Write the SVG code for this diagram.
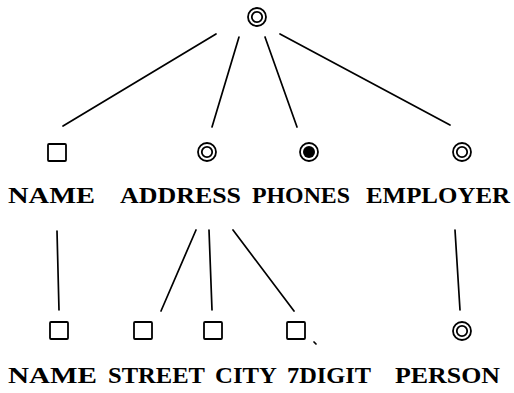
<svg xmlns="http://www.w3.org/2000/svg" width="514" height="393" viewBox="0 0 514 393">
  <style>
    .edge { stroke: #000; stroke-width: 1.7; fill: none; stroke-linecap: round; }
    .box { fill: #fff; stroke: #000; stroke-width: 1.8; }
    .ring { fill: #fff; stroke: #000; stroke-width: 1.8; }
    .dot { fill: #000; }
    .lbl { font-family: "Liberation Serif", "DejaVu Serif", serif; font-size: 24px; font-weight: bold; fill: #000; }
  </style>
  <rect width="514" height="393" fill="#fff"/>

  <!-- connectors -->
  <g id="connectors">
    <line class="edge" x1="216" y1="34" x2="63" y2="126"/>
    <line class="edge" x1="239" y1="37" x2="212" y2="127"/>
    <line class="edge" x1="265" y1="37" x2="297" y2="127"/>
    <line class="edge" x1="280" y1="34" x2="450" y2="125"/>
    <line class="edge" x1="57" y1="231" x2="59" y2="310"/>
    <line class="edge" x1="196" y1="230" x2="161" y2="311"/>
    <line class="edge" x1="209" y1="230" x2="212" y2="310"/>
    <line class="edge" x1="233" y1="230" x2="294" y2="311"/>
    <line class="edge" x1="455" y1="230" x2="460" y2="310"/>
  </g>

  <!-- root -->
  <g id="root">
    <circle class="ring" cx="257" cy="17" r="9"/>
    <circle class="ring" cx="257" cy="17" r="5.2"/>
  </g>

  <!-- level 1 -->
  <g id="name1">
    <rect class="box" x="48" y="144" width="18" height="17" rx="1"/>
    <text class="lbl" x="8" y="203" textLength="87" lengthAdjust="spacingAndGlyphs">NAME</text>
  </g>
  <g id="address">
    <circle class="ring" cx="207" cy="152" r="9"/>
    <circle class="ring" cx="207" cy="152" r="5.2"/>
    <text class="lbl" x="120" y="203" textLength="121" lengthAdjust="spacingAndGlyphs">ADDRESS</text>
  </g>
  <g id="phones">
    <circle class="ring" cx="309" cy="152" r="9"/>
    <circle class="dot" cx="309" cy="152" r="6"/>
    <text class="lbl" x="252" y="203" textLength="98" lengthAdjust="spacingAndGlyphs">PHONES</text>
  </g>
  <g id="employer">
    <circle class="ring" cx="462" cy="152" r="9"/>
    <circle class="ring" cx="462" cy="152" r="5.2"/>
    <text class="lbl" x="366" y="203" textLength="144" lengthAdjust="spacingAndGlyphs">EMPLOYER</text>
  </g>

  <!-- level 2 -->
  <g id="name2">
    <rect class="box" x="50" y="322" width="18" height="17" rx="1"/>
    <text class="lbl" x="8" y="383" textLength="89" lengthAdjust="spacingAndGlyphs">NAME</text>
  </g>
  <g id="street">
    <rect class="box" x="134" y="322" width="18" height="17" rx="1"/>
    <text class="lbl" x="108" y="383" textLength="97" lengthAdjust="spacingAndGlyphs">STREET</text>
  </g>
  <g id="city">
    <rect class="box" x="204" y="322" width="18" height="17" rx="1"/>
    <text class="lbl" x="215" y="383" textLength="62" lengthAdjust="spacingAndGlyphs">CITY</text>
  </g>
  <g id="digit7">
    <rect class="box" x="287" y="322" width="18" height="17" rx="1"/>
    <line class="edge" x1="314" y1="342" x2="316" y2="344"/>
    <text class="lbl" x="287" y="383" textLength="84" lengthAdjust="spacingAndGlyphs">7DIGIT</text>
  </g>
  <g id="person">
    <circle class="ring" cx="462" cy="331" r="9"/>
    <circle class="ring" cx="462" cy="331" r="5.2"/>
    <text class="lbl" x="395" y="383" textLength="105" lengthAdjust="spacingAndGlyphs">PERSON</text>
  </g>
</svg>
